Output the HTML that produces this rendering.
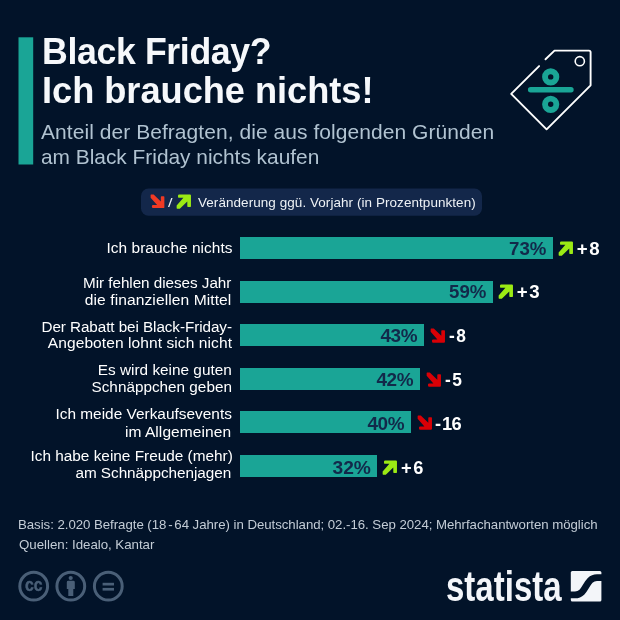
<!DOCTYPE html>
<html lang="de"><head><meta charset="utf-8"><title>Black Friday? Ich brauche nichts!</title>
<style>
html,body{margin:0;padding:0;background:#021329;}
body{width:620px;height:620px;position:relative;overflow:hidden;font-family:"Liberation Sans",sans-serif;color:#fff;}
.abs{position:absolute;}
.t{position:absolute;white-space:nowrap;line-height:1;}
.bar{position:absolute;left:240px;height:22px;background:#1aa596;}
.ar{position:absolute;overflow:visible;}
</style></head><body>
<svg class="ar" style="left:0;top:0" width="60" height="180" viewBox="0 0 60 180"><rect x="18.5" y="37.3" width="14.7" height="127.2" fill="#1aa596"/></svg>
<div class="t" id="t1" style="top:33.85px;font-size:36.32px;font-weight:700;color:#f6f8fb;left:41.60px;transform-origin:0 0;letter-spacing:-0.381px;transform:scaleX(0.9829);">Black Friday?</div>
<div class="t" id="t2" style="top:72.55px;font-size:36.32px;font-weight:700;color:#f6f8fb;left:42.10px;transform-origin:0 0;letter-spacing:-0.050px;transform:scaleX(0.9985);">Ich brauche nichts!</div>
<div class="t" id="s1" style="top:121.84px;font-size:20.86px;font-weight:400;color:#b1c3d1;left:41.00px;transform-origin:0 0;letter-spacing:0.058px;transform:scaleX(1.0062);">Anteil der Befragten, die aus folgenden Gründen</div>
<div class="t" id="s2" style="top:146.84px;font-size:20.86px;font-weight:400;color:#b1c3d1;left:41.00px;transform-origin:0 0;">am Black Friday nichts kaufen</div>
<svg class="ar" style="left:500px;top:40px" width="110" height="100" viewBox="500 40 110 100">
<path d="M539.1 66.1 L511.2 93.9 L546.6 129.3 L590.6 85.3 L590.6 52.3 Q590.6 50.6 588.9 50.6 L554.5 50.6 L545.5 59.3" fill="none" stroke="#ffffff" stroke-width="1.9" stroke-linecap="round" stroke-linejoin="round"/>
<circle cx="579.8" cy="61.2" r="4.6" fill="none" stroke="#ffffff" stroke-width="1.6"/>
<circle cx="550.7" cy="76.9" r="5.65" fill="none" stroke="#1aa596" stroke-width="5.9"/>
<circle cx="550.7" cy="104.3" r="5.65" fill="none" stroke="#1aa596" stroke-width="5.9"/>
<path d="M530.6 89.8 H571" fill="none" stroke="#1aa596" stroke-width="5.4" stroke-linecap="round"/>
</svg>
<svg class="ar" style="left:0;top:0" width="620" height="230" viewBox="0 0 620 230"><rect x="141" y="188.5" width="341" height="27.2" rx="7.5" fill="#13274a"/></svg>
<svg class="ar" style="left:149.60px;top:194.00px" width="16" height="16" viewBox="0 0 16 16"><g fill="#f03a24" transform="scale(0.96)"><path d="M0.65 0.95 L1.03 0.57 L3.8 0.57 L11.29 7.8 L11.29 3 Q11.29 2.3 12 2.3 L14.3 2.3 Q14.97 2.3 14.97 3 L14.97 13.7 Q14.97 14.7 13.95 14.7 L3.2 14.7 Q2 14.7 2 13.5 L2 12.6 Q2 11.4 3.2 11.4 L7.4 11.4 L0.65 3.8 Z"/></g></svg>
<div class="t" id="slash" style="top:198.30px;font-size:11.93px;font-weight:400;color:#f2f5f8;left:167.70px;transform-origin:0 0;transform:scaleX(1.3650);">/</div>
<svg class="ar" style="left:176.30px;top:193.80px" width="16" height="16" viewBox="0 0 16 16"><g fill="#9bea14" transform="scale(1) translate(0,15.27) scale(1,-1)"><path d="M0.65 0.95 L1.03 0.57 L3.8 0.57 L11.29 7.8 L11.29 3 Q11.29 2.3 12 2.3 L14.3 2.3 Q14.97 2.3 14.97 3 L14.97 13.7 Q14.97 14.7 13.95 14.7 L3.2 14.7 Q2 14.7 2 13.5 L2 12.6 Q2 11.4 3.2 11.4 L7.4 11.4 L0.65 3.8 Z"/></g></svg>
<div class="t" id="leg" style="top:196.39px;font-size:13.35px;font-weight:400;color:#eef2f6;left:197.70px;transform-origin:0 0;letter-spacing:0.063px;transform:scaleX(1.0101);">Veränderung ggü. Vorjahr (in Prozentpunkten)</div>
<div class="bar" style="top:237px;width:312.7px"></div>
<div class="t" id="l0a" style="top:240.20px;font-size:15.36px;font-weight:400;color:#ffffff;right:387.15px;text-align:right;transform-origin:100% 0;letter-spacing:0.053px;transform:scaleX(1.0044);">Ich brauche nichts</div>
<div class="t" id="v0" style="top:238.75px;font-size:19.20px;font-weight:700;color:#12294a;right:73.54px;text-align:right;transform-origin:100% 0;letter-spacing:-0.001px;transform:scaleX(0.9730);">73%</div>
<svg class="ar" style="left:558.01px;top:240.70px" width="16" height="16" viewBox="0 0 16 16"><g fill="#9bea14" transform="scale(1) translate(0,15.27) scale(1,-1)"><path d="M0.65 0.95 L1.03 0.57 L3.8 0.57 L11.29 7.8 L11.29 3 Q11.29 2.3 12 2.3 L14.3 2.3 Q14.97 2.3 14.97 3 L14.97 13.7 Q14.97 14.7 13.95 14.7 L3.2 14.7 Q2 14.7 2 13.5 L2 12.6 Q2 11.4 3.2 11.4 L7.4 11.4 L0.65 3.8 Z"/></g></svg>
<div class="t" id="c0" style="top:239.79px;font-size:18.68px;font-weight:700;color:#ffffff;left:576.66px;transform-origin:0 0;"><span style="letter-spacing:1.7px">+</span>8</div>
<div class="bar" style="top:280.6px;width:252.7px"></div>
<div class="t" id="l1a" style="top:274.80px;font-size:15.36px;font-weight:400;color:#ffffff;right:388.74px;text-align:right;transform-origin:100% 0;letter-spacing:-0.043px;transform:scaleX(0.9933);">Mir fehlen dieses Jahr</div>
<div class="t" id="l1b" style="top:291.60px;font-size:15.36px;font-weight:400;color:#ffffff;right:388.12px;text-align:right;transform-origin:100% 0;letter-spacing:0.080px;transform:scaleX(1.0155);">die finanziellen Mittel</div>
<div class="t" id="v1" style="top:282.35px;font-size:19.20px;font-weight:700;color:#12294a;right:133.50px;text-align:right;transform-origin:100% 0;letter-spacing:-0.001px;transform:scaleX(0.9730);">59%</div>
<svg class="ar" style="left:498.05px;top:284.30px" width="16" height="16" viewBox="0 0 16 16"><g fill="#9bea14" transform="scale(1) translate(0,15.27) scale(1,-1)"><path d="M0.65 0.95 L1.03 0.57 L3.8 0.57 L11.29 7.8 L11.29 3 Q11.29 2.3 12 2.3 L14.3 2.3 Q14.97 2.3 14.97 3 L14.97 13.7 Q14.97 14.7 13.95 14.7 L3.2 14.7 Q2 14.7 2 13.5 L2 12.6 Q2 11.4 3.2 11.4 L7.4 11.4 L0.65 3.8 Z"/></g></svg>
<div class="t" id="c1" style="top:283.39px;font-size:18.68px;font-weight:700;color:#ffffff;left:516.70px;transform-origin:0 0;"><span style="letter-spacing:1.7px">+</span>3</div>
<div class="bar" style="top:324.2px;width:184.2px"></div>
<div class="t" id="l2a" style="top:318.50px;font-size:15.36px;font-weight:400;color:#ffffff;right:387.77px;text-align:right;transform-origin:100% 0;letter-spacing:-0.067px;transform:scaleX(0.9922);">Der Rabatt bei Black-Friday-</div>
<div class="t" id="l2b" style="top:335.20px;font-size:15.36px;font-weight:400;color:#ffffff;right:388.13px;text-align:right;transform-origin:100% 0;letter-spacing:0.071px;transform:scaleX(1.0122);">Angeboten lohnt sich nicht</div>
<div class="t" id="v2" style="top:325.95px;font-size:19.20px;font-weight:700;color:#12294a;right:202.49px;text-align:right;transform-origin:100% 0;letter-spacing:-0.456px;transform:scaleX(0.9865);">43%</div>
<svg class="ar" style="left:429.97px;top:327.50px" width="16" height="16" viewBox="0 0 16 16"><g fill="#d80006" transform="scale(1)"><path d="M0.65 0.95 L1.03 0.57 L3.8 0.57 L11.29 7.8 L11.29 3 Q11.29 2.3 12 2.3 L14.3 2.3 Q14.97 2.3 14.97 3 L14.97 13.7 Q14.97 14.7 13.95 14.7 L3.2 14.7 Q2 14.7 2 13.5 L2 12.6 Q2 11.4 3.2 11.4 L7.4 11.4 L0.65 3.8 Z"/></g></svg>
<div class="t" id="c2" style="top:326.99px;font-size:18.68px;font-weight:700;color:#ffffff;left:449.27px;transform-origin:0 0;transform:scaleX(0.9290);"><span style="letter-spacing:1.7px">-</span>8</div>
<div class="bar" style="top:367.8px;width:179.9px"></div>
<div class="t" id="l3a" style="top:361.80px;font-size:15.36px;font-weight:400;color:#ffffff;right:388.20px;text-align:right;transform-origin:100% 0;">Es wird keine guten</div>
<div class="t" id="l3b" style="top:378.50px;font-size:15.36px;font-weight:400;color:#ffffff;right:387.70px;text-align:right;transform-origin:100% 0;transform:scaleX(0.9964);">Schnäppchen geben</div>
<div class="t" id="v3" style="top:370.15px;font-size:19.20px;font-weight:700;color:#12294a;right:206.77px;text-align:right;transform-origin:100% 0;letter-spacing:-0.456px;transform:scaleX(0.9865);">42%</div>
<svg class="ar" style="left:425.69px;top:371.70px" width="16" height="16" viewBox="0 0 16 16"><g fill="#d80006" transform="scale(1)"><path d="M0.65 0.95 L1.03 0.57 L3.8 0.57 L11.29 7.8 L11.29 3 Q11.29 2.3 12 2.3 L14.3 2.3 Q14.97 2.3 14.97 3 L14.97 13.7 Q14.97 14.7 13.95 14.7 L3.2 14.7 Q2 14.7 2 13.5 L2 12.6 Q2 11.4 3.2 11.4 L7.4 11.4 L0.65 3.8 Z"/></g></svg>
<div class="t" id="c3" style="top:371.19px;font-size:18.68px;font-weight:700;color:#ffffff;left:444.99px;transform-origin:0 0;transform:scaleX(0.9290);"><span style="letter-spacing:1.7px">-</span>5</div>
<div class="bar" style="top:411.4px;width:171.3px"></div>
<div class="t" id="l4a" style="top:406.40px;font-size:15.36px;font-weight:400;color:#ffffff;right:387.70px;text-align:right;transform-origin:100% 0;transform:scaleX(1.0031);">Ich meide Verkaufsevents</div>
<div class="t" id="l4b" style="top:423.60px;font-size:15.36px;font-weight:400;color:#ffffff;right:388.63px;text-align:right;transform-origin:100% 0;letter-spacing:0.069px;transform:scaleX(1.0107);">im Allgemeinen</div>
<div class="t" id="v4" style="top:413.85px;font-size:19.20px;font-weight:700;color:#12294a;right:216.34px;text-align:right;transform-origin:100% 0;letter-spacing:-0.456px;transform:scaleX(0.9865);">40%</div>
<svg class="ar" style="left:417.12px;top:415.40px" width="16" height="16" viewBox="0 0 16 16"><g fill="#d80006" transform="scale(1)"><path d="M0.65 0.95 L1.03 0.57 L3.8 0.57 L11.29 7.8 L11.29 3 Q11.29 2.3 12 2.3 L14.3 2.3 Q14.97 2.3 14.97 3 L14.97 13.7 Q14.97 14.7 13.95 14.7 L3.2 14.7 Q2 14.7 2 13.5 L2 12.6 Q2 11.4 3.2 11.4 L7.4 11.4 L0.65 3.8 Z"/></g></svg>
<div class="t" id="c4" style="top:414.89px;font-size:18.68px;font-weight:700;color:#ffffff;left:434.72px;transform-origin:0 0;transform:scaleX(0.9815);"><span style="letter-spacing:0.9px">-</span><span style="letter-spacing:-0.8px">1</span>6</div>
<div class="bar" style="top:455px;width:137.1px"></div>
<div class="t" id="l5a" style="top:447.80px;font-size:15.36px;font-weight:400;color:#ffffff;right:387.20px;text-align:right;transform-origin:100% 0;">Ich habe keine Freude (mehr)</div>
<div class="t" id="l5b" style="top:464.80px;font-size:15.36px;font-weight:400;color:#ffffff;right:389.25px;text-align:right;transform-origin:100% 0;letter-spacing:-0.050px;transform:scaleX(0.9968);">am Schnäppchenjagen</div>
<div class="t" id="v5" style="top:457.55px;font-size:19.20px;font-weight:700;color:#12294a;right:249.14px;text-align:right;transform-origin:100% 0;">32%</div>
<svg class="ar" style="left:382.41px;top:459.50px" width="16" height="16" viewBox="0 0 16 16"><g fill="#9bea14" transform="scale(1) translate(0,15.27) scale(1,-1)"><path d="M0.65 0.95 L1.03 0.57 L3.8 0.57 L11.29 7.8 L11.29 3 Q11.29 2.3 12 2.3 L14.3 2.3 Q14.97 2.3 14.97 3 L14.97 13.7 Q14.97 14.7 13.95 14.7 L3.2 14.7 Q2 14.7 2 13.5 L2 12.6 Q2 11.4 3.2 11.4 L7.4 11.4 L0.65 3.8 Z"/></g></svg>
<div class="t" id="c5" style="top:458.59px;font-size:18.68px;font-weight:700;color:#ffffff;left:401.06px;transform-origin:0 0;transform:scaleX(0.9783);"><span style="letter-spacing:1.7px">+</span>6</div>
<div class="t" id="f1" style="top:518.17px;font-size:13.39px;font-weight:400;color:#c3ccd6;left:17.60px;transform-origin:0 0;letter-spacing:-0.048px;transform:scaleX(0.9907);">Basis: 2.020 Befragte (18<span style="letter-spacing:0;font-size:0.5em"> </span>-<span style="font-size:0.5em"> </span>64 Jahre) in Deutschland; 02.-16. Sep 2024; Mehrfachantworten möglich</div>
<div class="t" id="f2" style="top:538.17px;font-size:13.39px;font-weight:400;color:#c3ccd6;left:18.60px;transform-origin:0 0;letter-spacing:-0.041px;transform:scaleX(0.9964);">Quellen: Idealo, Kantar</div>
<svg class="ar" style="left:10px;top:560px" width="130" height="50" viewBox="10 560 130 50">
<g fill="none" stroke="#4a5f77" stroke-width="3">
<circle cx="33.7" cy="586.2" r="13.9"/><circle cx="70.8" cy="586.2" r="13.9"/><circle cx="108.3" cy="586.2" r="13.9"/>
</g>
<text transform="translate(33.8 591.4) scale(0.83 1)" text-anchor="middle" font-family="Liberation Sans, sans-serif" font-weight="bold" font-size="19" fill="#4a5f77" stroke="#4a5f77" stroke-width="0.5">cc</text>
<g fill="#4a5f77">
<circle cx="70.7" cy="578" r="2.1"/>
<path d="M66.8 582.2 Q66.8 580.8 68.2 580.8 H73.4 Q74.8 580.8 74.8 582.2 V589 H73.3 V596 H68.3 V589 H66.8 Z"/>
<rect x="102.6" y="582.8" width="11.4" height="2.7"/><rect x="102.6" y="587.9" width="11.4" height="2.7"/>
</g>
</svg>
<div class="t" id="logo" style="left:445.9px;top:564.89px;font-family:'Liberation Sans',sans-serif;font-weight:bold;font-size:43px;color:#f3f5f9;transform-origin:0 0;transform:scaleX(0.768);letter-spacing:0px">statista</div>
<svg class="ar" style="left:565px;top:565px" width="45" height="45" viewBox="565 565 45 45">
<rect x="570.8" y="571" width="30.6" height="30.5" rx="1.5" fill="#f3f5f9"/>
<path d="M569 594.9 H575 C587 594.9 585 577.7 597 577.7 H603" fill="none" stroke="#021329" stroke-width="6.8"/>
</svg>
</body></html>
